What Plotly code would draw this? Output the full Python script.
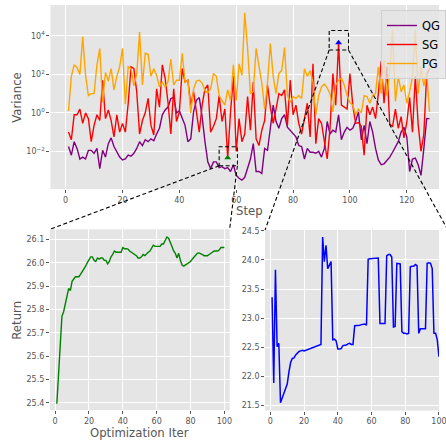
import math
import plotly.graph_objects as go

# ---------------- data ----------------
steps = list(range(1, 129))
# variance, stored as log10 exponents
qg_log10 = [-1.75, -2.2, -1.5, -1.85, -2.4, -2.3, -2.4, -1.95, -1.95, -2.1,
            -1.85, -2.9, -1.95, -2.3, -1.6, -1.3, -1.75, -2.0, -2.3, -2.45,
            -2.4, -2.2, -2.25, -2.1, -1.85, -1.5, -1.7, -1.4, -1.5, -1.35,
            -1.45, -1.1, -0.8, -0.1, 0.15, 0.3, 0.75, 0.8, 0.0, 0.1,
            -0.3, -0.65, -1.5, -1.35, 0.05, 0.65, 0.8, -0.2, -1.5, -2.55,
            -2.9, -2.55, -2.55, -2.85, -2.8, -2.9, -2.85, -3.05, -2.7, -3.25,
            -3.4, -3.5, -3.35, -2.9, -2.4, -1.6, -3.05, -3.05, -3.15, -1.85,
            -1.95, -0.8, 0.4, -0.45, -0.8, -0.3, -0.1, -0.75, -0.9, -1.1,
            -1.25, -1.7, -1.75, -2.4, -1.85, -2.05, -2.05, -2.1, -2.0, -2.3,
            -1.85, -0.45, -1.1, -0.9, -1.0, -0.1, -1.4, -1.0, -0.75, -0.9,
            -0.8, -0.45, 0.05, -1.4, -0.65, -1.6, -0.45, -1.0, -1.85, -2.45,
            -2.7, -2.65, -2.5, -2.3, -2.05, -1.75, -1.5, -1.0, -0.75, -1.25,
            -3.05, -2.4, -2.35, -2.7, -3.25, -1.85, -0.3, -0.3]
sg_log10 = [-1.0, -1.4, -0.1, -0.1, 0.2, -0.55, 0.0, -0.3, -1.5, -0.65,
            -0.1, -0.4, 1.7, -0.3, 0.15, -0.4, -1.25, -0.1, -1.0, -0.55,
            -1.0, 0.5, 2.4, 2.3, 1.1, -1.1, -0.4, 0.0, 0.75, -0.65,
            -1.15, 1.25, 0.3, 2.5, 1.8, 0.55, -1.1, 1.25, -0.45, 0.05,
            2.3, 1.6, 1.7, 0.4, 1.1, -0.1, -1.0, 0.4, 1.25, 1.45,
            -1.0, -0.7, -0.3, 0.9, -0.45, 0.2, -2.33, 0.05, 1.9, -2.0,
            -0.3, -1.5, -1.1, 0.85, -0.9, 1.6, -1.35, -1.7, -0.9, -0.4,
            1.45, 0.3, -0.55, 0.2, 1.0, 0.9, 1.2, -0.65, 1.7, -0.1,
            0.4, -0.55, -1.1, -0.3, 0.5, -1.25, 2.55, -1.6, -0.3, -0.55,
            -1.6, -2.4, -0.8, 2.05, 0.4, 3.65, 0.4, 0.3, 0.2, 2.05,
            0.4, -0.55, -0.5, -0.7, -2.2, 0.4, -0.1, 0.3, -0.3, 1.0,
            2.7, 0.5, 2.4, -0.6, -0.7, 0.2, -0.8, -0.2, -1.3, -0.5,
            0.8, -1.0, 1.9, -0.6, -2.0, -1.1, 2.0, 2.3]
pg_log10 = [0.1, 1.9, 2.5, 2.35, 2.0, 3.95, 1.95, 0.9, 1.0, 1.0,
            2.5, 3.35, 0.55, 2.1, 1.65, 2.3, 1.2, 1.9, 2.4, 3.35,
            0.45, 2.4, 2.3, 1.4, 2.0, 4.2, 1.45, 3.1, 3.05, 1.9,
            2.3, 1.95, 1.35, 1.6, 1.35, 1.6, 2.8, 1.45, 1.7, 1.7,
            3.1, 1.6, 1.7, 0.0, 1.25, 1.65, 1.7, 1.55, 1.15, 1.05,
            1.25, 2.05, 1.9, 0.9, 0.65, 0.4, 1.2, 0.65, 2.5, 0.65,
            2.55, 1.95, 5.2, 3.35, 1.0, 1.1, 3.35, 2.4, 1.55, 0.2,
            1.55, 3.6, 1.9, 1.0, 2.05, 2.2, 3.4, 0.9, 0.55, 0.85,
            0.75, 0.9, 0.75, 2.3, 1.9, 2.2, 1.6, -0.1, 0.9, 1.35,
            1.5, 1.3, 1.0, 0.05, 1.45, 1.7, 1.8, 1.45, 0.9, 0.55,
            0.4, -0.1, 0.2, 0.0, 0.9, 0.85, 0.5, 0.9, 1.0, 2.4,
            1.0, 2.75, 0.9, 2.1, 4.3, 0.6, 1.9, 1.1, 1.45, 0.5,
            1.1, 1.9, 4.3, 1.0, 2.4, 1.4, 2.1, 0.05]
qg = [10 ** v for v in qg_log10]
sg = [10 ** v for v in sg_log10]
pg = [10 ** v for v in pg_log10]

min_step = 57   # green marker on SG
max_step = 96   # blue marker on SG

iters = list(range(1, 101))
return_left = [25.396, 25.53, 25.65, 25.77, 25.79, 25.82, 25.85, 25.89, 25.88, 25.92,
               25.93, 25.94, 25.94, 25.94, 25.95, 25.96, 25.97, 25.985, 26.0, 26.01,
               26.025, 26.025, 26.01, 26.005, 26.02, 26.015, 26.02, 26.02, 26.01, 26.01,
               25.995, 26.005, 26.025, 26.035, 26.05, 26.045, 26.045, 26.045, 26.045, 26.065,
               26.06, 26.06, 26.058, 26.05, 26.045, 26.04, 26.035, 26.03, 26.02, 26.02,
               26.025, 26.035, 26.03, 26.04, 26.045, 26.05, 26.06, 26.075, 26.07, 26.07,
               26.07, 26.07, 26.08, 26.08, 26.095, 26.11, 26.105, 26.09, 26.07, 26.05,
               26.04, 26.02, 26.04, 26.01, 25.99, 25.985, 25.99, 25.995, 26.0, 26.005,
               26.015, 26.025, 26.035, 26.04, 26.042, 26.04, 26.035, 26.03, 26.03, 26.03,
               26.035, 26.04, 26.045, 26.05, 26.05, 26.05, 26.055, 26.065, 26.065, 26.065]
return_right = [23.36, 21.89, 23.83, 22.51, 22.57, 21.55, 21.63, 21.71, 21.80, 21.87,
                22.08, 22.24, 22.31, 22.32, 22.37, 22.40, 22.43, 22.44, 22.45, 22.44,
                22.45, 22.47, 22.47, 22.48, 22.50, 22.50, 22.51, 22.53, 22.54, 22.55,
                24.39, 23.97, 24.25, 23.85, 23.91, 23.97, 22.63, 22.64, 22.61, 22.47,
                22.47, 22.48, 22.53, 22.53, 22.54, 22.56, 22.57, 22.55, 22.55, 22.87,
                22.87, 22.88, 22.88, 22.89, 22.89, 22.90, 22.88, 24.01, 24.02, 24.02,
                24.03, 24.03, 24.03, 24.03, 22.91, 22.91, 22.91, 22.91, 24.07, 24.09,
                24.09, 24.05, 22.85, 22.86, 23.94, 23.94, 23.93, 22.77, 22.74, 22.74,
                22.73, 22.74, 23.88, 23.89, 23.89, 23.92, 23.90, 22.74, 22.82, 22.82,
                22.82, 22.82, 23.94, 23.95, 23.94, 23.85, 22.74, 22.74, 22.63, 22.34]

top_xticks = [0, 20, 40, 60, 80, 100, 120]
top_yticks = [1e-2, 1e0, 1e2, 1e4]
top_yticktext = ["10<sup>\u22122</sup>", "10<sup>0</sup>", "10<sup>2</sup>", "10<sup>4</sup>"]
left_yticks = [25.4, 25.5, 25.6, 25.7, 25.8, 25.9, 26.0, 26.1]
right_yticks = [21.5, 22.0, 22.5, 23.0, 23.5, 24.0, 24.5]
bottom_xticks = [0, 20, 40, 60, 80, 100]

# zoom boxes on the top axis (x range, log10 y range)
box1 = dict(x=(54.0, 60.4), ly=(-2.75, -1.76))
box2 = dict(x=(92.7, 99.5), ly=(3.27, 4.28))

# ---------------- layout geometry (pixels) ----------------
W, H = 446, 440
FONT = "DejaVu Sans"
GREY = "#555555"

def px_x(p):
    return p / W

def px_y(p):
    return 1 - p / H

top_dom_x = [px_x(51.2), 1.0]
top_dom_y = [px_y(189), px_y(5)]
top_xr = [-5.37, 131.33]
top_yr = [-3.96, 5.61]

bl_dom_x = [px_x(50.7), px_x(233.3)]
bl_dom_y = [px_y(410), px_y(229.3)]
bl_xr = [-3.1, 103.1]
bl_yr = [25.369, 26.143]

br_dom_x = [px_x(269.3), 1.0]
br_dom_y = [px_y(410.7), px_y(230)]
br_xr = [-3.15, 100.02]
br_yr = [21.414, 24.512]
br_full_right_px = 455  # right edge of this panel in the (wider) original

fig = go.Figure()
fig.add_trace(go.Scatter(x=steps, y=qg, mode="lines", name="QG",
                         line=dict(color="purple", width=1.4), xaxis="x", yaxis="y"))
fig.add_trace(go.Scatter(x=steps, y=sg, mode="lines", name="SG",
                         line=dict(color="red", width=1.4), xaxis="x", yaxis="y"))
fig.add_trace(go.Scatter(x=steps, y=pg, mode="lines", name="PG",
                         line=dict(color="orange", width=1.4), xaxis="x", yaxis="y"))
fig.add_trace(go.Scatter(x=[min_step], y=[sg[min_step - 1]], mode="markers", showlegend=False,
                         marker=dict(symbol="triangle-up", color="green", size=6),
                         xaxis="x", yaxis="y"))
fig.add_trace(go.Scatter(x=[max_step], y=[sg[max_step - 1]], mode="markers", showlegend=False,
                         marker=dict(symbol="triangle-up", color="blue", size=6),
                         xaxis="x", yaxis="y"))
fig.add_trace(go.Scatter(x=iters, y=return_left, mode="lines", showlegend=False,
                         line=dict(color="green", width=1.4), xaxis="x2", yaxis="y2"))
fig.add_trace(go.Scatter(x=iters, y=return_right, mode="lines", showlegend=False,
                         line=dict(color="blue", width=1.5), xaxis="x3", yaxis="y3"))

tickfont = dict(family=FONT, size=8, color=GREY)
axis_common = dict(showgrid=True, gridcolor="white", gridwidth=1, zeroline=False,
                   showline=False, ticks="outside", ticklen=3, tickwidth=1,
                   tickcolor=GREY, tickfont=tickfont, automargin=False,
                   ticklabeloverflow="allow")

fig.update_layout(
    width=W, height=H, margin=dict(l=0, r=0, t=0, b=0),
    paper_bgcolor="white", plot_bgcolor="#E5E5E5",
    font=dict(family=FONT, color=GREY),
    xaxis=dict(domain=top_dom_x, range=top_xr, tickvals=top_xticks, anchor="y", **axis_common),
    yaxis=dict(domain=top_dom_y, type="log", range=top_yr, tickvals=top_yticks,
               ticktext=top_yticktext, anchor="x", **axis_common),
    xaxis2=dict(domain=bl_dom_x, range=bl_xr, tickvals=bottom_xticks, anchor="y2", **axis_common),
    yaxis2=dict(domain=bl_dom_y, range=bl_yr, tickvals=left_yticks, tickformat=".1f",
                anchor="x2", **axis_common),
    xaxis3=dict(domain=br_dom_x, range=br_xr, tickvals=bottom_xticks, anchor="y3", **axis_common),
    yaxis3=dict(domain=br_dom_y, range=br_yr, tickvals=right_yticks, tickformat=".1f",
                anchor="x3", **axis_common),
    legend=dict(x=px_x(387), y=px_y(10), xanchor="left", yanchor="top",
                bgcolor="rgba(229,229,229,0.8)", bordercolor="#d0d0d0", borderwidth=1,
                font=dict(family=FONT, size=11.5, color="black"), itemwidth=30,
                tracegroupgap=0),
    showlegend=True,
)

# axis titles
lab = dict(family=FONT, size=11.7, color=GREY)
def title(text, x, y, angle=0):
    fig.add_annotation(text=text, x=px_x(x), y=px_y(y), xref="paper", yref="paper",
                       xanchor="center", yanchor="middle", showarrow=False,
                       textangle=angle, font=lab)

title("Variance", 17, 97, -90)
title("Step", 253, 211)
title("Return", 17, 320, -90)
title("Optimization Iter", 142, 432.7)

# zoom boxes and connectors
dash_line = dict(color="black", width=1.1, dash="4px,2.5px")
for b in (box1, box2):
    fig.add_shape(type="rect", xref="x", yref="y", x0=b["x"][0], x1=b["x"][1],
                  y0=10 ** b["ly"][0], y1=10 ** b["ly"][1], line=dash_line, layer="above")

def top_to_paper(xv, lyv):
    px = top_dom_x[0] + (xv - top_xr[0]) / (top_xr[1] - top_xr[0]) * (top_dom_x[1] - top_dom_x[0])
    py = top_dom_y[0] + (lyv - top_yr[0]) / (top_yr[1] - top_yr[0]) * (top_dom_y[1] - top_dom_y[0])
    return px, py

connectors = [
    (top_to_paper(box1["x"][0], box1["ly"][0]), (bl_dom_x[0], bl_dom_y[1])),
    (top_to_paper(box1["x"][1], box1["ly"][0]), (bl_dom_x[1], bl_dom_y[1])),
    (top_to_paper(box2["x"][0], box2["ly"][0]), (br_dom_x[0], br_dom_y[1])),
    (top_to_paper(box2["x"][1], box2["ly"][0]), (px_x(br_full_right_px), br_dom_y[1])),
]
for (a, b) in connectors:
    fig.add_shape(type="line", xref="paper", yref="paper", x0=a[0], y0=a[1], x1=b[0], y1=b[1],
                  line=dash_line, layer="above")

fig.write_html("out.html", config={"displayModeBar": False},
               post_script="document.body.style.margin='0';document.body.style.overflow='hidden';")
